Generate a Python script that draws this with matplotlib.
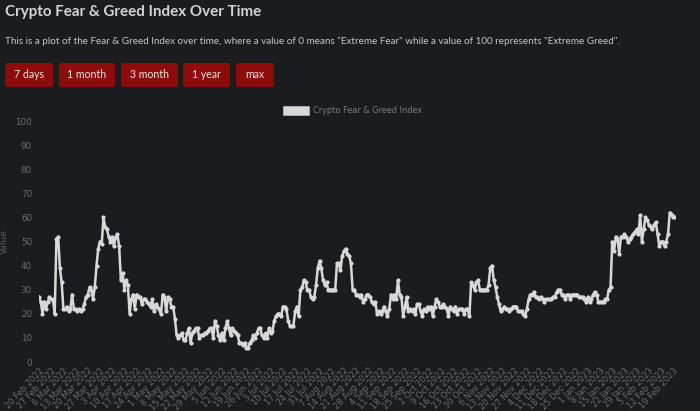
import numpy as np
import pandas as pd
import matplotlib
matplotlib.use("Agg")
import matplotlib.pyplot as plt
from matplotlib.patches import FancyBboxPatch, Rectangle

# daily index values, 20 Feb 2022 onwards
values = [
    27, 25, 20, 25, 22, 25, 27, 26, 26, 20,
    51, 52, 39, 33, 22, 22, 23, 21, 22, 28,
    22, 22, 21, 22, 21, 22, 24, 27, 28, 31,
    30, 26, 31, 40, 47, 50, 49, 60, 56, 55,
    52, 50, 52, 48, 52, 53, 48, 34, 37, 30,
    34, 32, 20, 26, 28, 22, 28, 27, 27, 24,
    26, 26, 25, 24, 23, 26, 21, 24, 23, 22,
    20, 28, 27, 21, 27, 26, 23, 23, 18, 11,
    10, 11, 12, 9, 9, 12, 14, 8, 12, 13,
    14, 14, 10, 11, 11, 12, 12, 13, 14, 14,
    10, 17, 15, 11, 9, 12, 9, 14, 17, 14,
    11, 14, 13, 12, 11, 8, 8, 7, 8, 6,
    6, 8, 9, 11, 10, 12, 14, 14, 11, 10,
    12, 10, 14, 12, 13, 17, 19, 20, 20, 19,
    23, 23, 22, 17, 15, 15, 15, 21, 23, 19,
    30, 31, 34, 33, 30, 30, 27, 26, 27, 32,
    39, 42, 39, 34, 32, 33, 30, 30, 30, 30,
    30, 41, 41, 38, 44, 46, 47, 45, 44, 41,
    30, 30, 28, 28, 27, 28, 25, 26, 28, 28,
    27, 25, 24, 25, 20, 21, 20, 21, 23, 21,
    19, 22, 28, 26, 28, 26, 34, 28, 27, 19,
    23, 27, 21, 22, 21, 22, 20, 24, 24, 21,
    19, 22, 21, 23, 22, 23, 19, 23, 26, 25,
    23, 23, 24, 23, 22, 19, 23, 22, 21, 23,
    20, 22, 22, 22, 20, 22, 22, 19, 33, 32,
    30, 33, 34, 30, 30, 30, 30, 30, 32, 39,
    40, 34, 31, 27, 24, 21, 22, 23, 22, 22,
    21, 22, 23, 23, 23, 21, 21, 21, 20, 19,
    22, 26, 28, 28, 29, 27, 27, 26, 27, 26,
    25, 26, 26, 26, 26, 27, 27, 29, 30, 30,
    28, 28, 26, 28, 28, 26, 28, 28, 28, 28,
    27, 27, 27, 26, 25, 27, 25, 26, 28, 29,
    28, 25, 25, 25, 25, 26, 26, 30, 31, 50,
    46, 52, 51, 45, 52, 52, 53, 52, 50, 51,
    52, 53, 54, 55, 53, 61, 50, 55, 60, 59,
    57, 56, 55, 57, 58, 53, 48, 50, 50, 48,
    50, 53, 62, 61, 60, 60,
]
start_date = "2022-02-20"
buttons = ["7 days", "1 month", "3 month", "1 year", "max"]
y_ticks = list(range(0, 101, 10))

dates = pd.date_range(start_date, periods=len(values), freq="D")

bg = "#1b1c1f"
W, H = 700, 411

fig = plt.figure(figsize=(W / 100, H / 100), dpi=100, facecolor=bg)
ax = fig.add_axes([39 / W, 49 / H, 636 / W, 241 / H], facecolor=bg)

line_col = "#d8d8d8"
ax.plot(dates, values, color=line_col, lw=1.8, marker="o", ms=3.0,
        markeredgewidth=0, solid_joinstyle="round", zorder=3)

ax.set_ylim(0, 100)
ax.set_xlim(dates[0], dates[-1])
ax.set_yticks(y_ticks)
tick_dates = dates[::7]
ax.set_xticks(tick_dates)
ax.set_xticklabels([d.strftime("%-d %b %Y") for d in tick_dates],
                   rotation=47, ha="right", rotation_mode="anchor")
ax.tick_params(axis="y", length=0, colors="#6e6e6e", labelsize=6.3, pad=5)
ax.tick_params(axis="x", length=0, colors="#6a6a6a", labelsize=6.0, pad=3)
for s in ax.spines.values():
    s.set_visible(False)
ax.set_ylabel("Value", color="#5e5e5e", fontsize=6.5)
ax.yaxis.set_label_coords(-0.047, 0.5)

# header text
fig.text(5 / W, 1 - 12 / H, "Crypto Fear & Greed Index Over Time",
         color="#d4d4d4", fontsize=10.9, fontweight="bold", family="Lato",
         va="center", ha="left")
fig.text(5 / W, 1 - 42 / H,
         'This is a plot of the Fear & Greed Index over time, where a value of 0 '
         'means "Extreme Fear" while a value of 100 represents "Extreme Greed".',
         color="#c6c6c6", fontsize=7.1, family="Lato", va="center", ha="left")

# range buttons
btn_x = [(5, 53), (59, 115), (121, 178), (183, 230), (236, 274)]
for lab, (x0, x1) in zip(buttons, btn_x):
    p = FancyBboxPatch((x0 / W, 1 - 87 / H), (x1 - x0) / W, 24 / H,
                       boxstyle="round,pad=0,rounding_size=0.004",
                       transform=fig.transFigure, facecolor="#8e0b0b",
                       edgecolor="none")
    fig.add_artist(p)
    fig.text((x0 + x1) / 2 / W, 1 - 75 / H, lab, color="#e6e6e6",
             fontsize=7.6, family="Lato", ha="center", va="center")

# legend
fig.add_artist(Rectangle((283 / W, 1 - 115 / H), 26 / W, 9 / H,
                         transform=fig.transFigure, facecolor="#d8d8d8",
                         edgecolor="#bbbbbb", lw=0.5))
fig.text(313 / W, 1 - 110.5 / H, "Crypto Fear & Greed Index", color="#7a7a7a",
         fontsize=5.9, ha="left", va="center")

fig.savefig("out.png", dpi=100, facecolor=bg)
